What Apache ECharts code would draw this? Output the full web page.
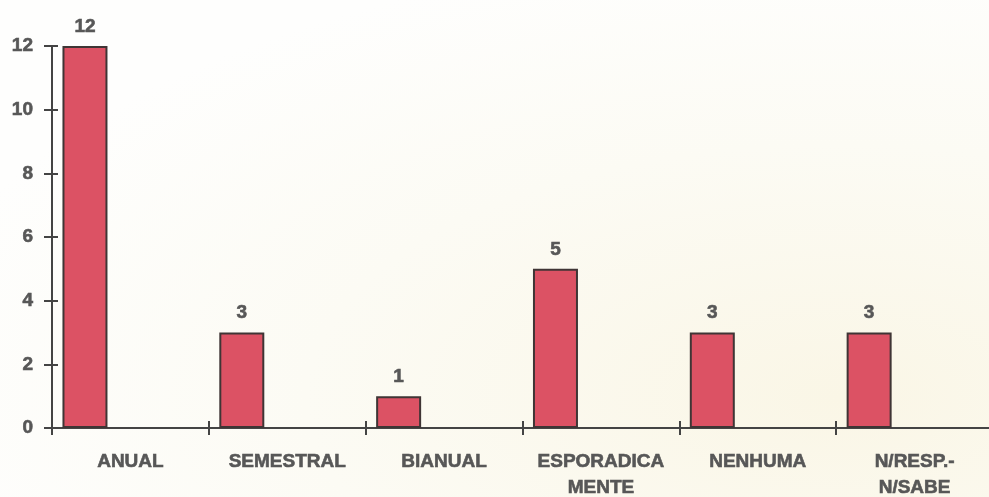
<!DOCTYPE html>
<html>
<head>
<meta charset="utf-8">
<script src="https://cdn.jsdelivr.net/npm/echarts@6/dist/echarts.min.js"></script>
<style>
  html, body { margin: 0; padding: 0; }
  #chart {
    width: 989px; height: 497px;
    background: radial-gradient(ellipse at 85% 80%, #faf6e6 0%, #fcfbf4 45%, #fefefd 80%);
  }
</style>
</head>
<body>
<div id="chart"></div>
<script>
// Frequency answers per category
const categories = ['ANUAL', 'SEMESTRAL', 'BIANUAL', 'ESPORADICA\nMENTE', 'NENHUMA', 'N/RESP.-\nN/SABE'];
const counts = [12, 3, 1, 5, 3, 3];
const yTicks = { min: 0, max: 12, step: 2 };

const textColor = '#575757';
const axisColor = '#444444';
const fontFamily = '"Liberation Sans", Arial, sans-serif';
const textStyle = {
  color: textColor, fontFamily, fontWeight: 'bold', fontSize: 19,
  textBorderColor: textColor, textBorderWidth: 0.6
};

const chart = echarts.init(document.getElementById('chart'), null, { renderer: 'canvas' });

const yCommon = {
  type: 'value',
  min: yTicks.min,
  max: yTicks.max,
  interval: yTicks.step,
  position: 'left',
  splitLine: { show: false },
  axisLine: { show: true, lineStyle: { color: axisColor, width: 2 } }
};

chart.setOption({
  animation: false,
  grid: { left: 52, right: -4, top: 46, bottom: 69, containLabel: false, outerBoundsMode: 'none' },
  xAxis: [{
    type: 'category',
    data: categories,
    boundaryGap: true,
    axisLine: { lineStyle: { color: axisColor, width: 2 } },
    axisTick: { show: true, length: 7, lineStyle: { color: axisColor, width: 2 } },
    axisLabel: Object.assign({ lineHeight: 26, margin: 21, interval: 0 }, textStyle)
  }, {
    type: 'category',
    data: categories,
    position: 'bottom',
    axisLine: { show: false },
    axisTick: { show: true, inside: true, length: 7, lineStyle: { color: axisColor, width: 2 } },
    axisLabel: { show: false }
  }],
  yAxis: [Object.assign({}, yCommon, {
    axisTick: { show: true, length: 8, lineStyle: { color: axisColor, width: 2 } },
    axisLabel: Object.assign({ margin: 19 }, textStyle)
  }), Object.assign({}, yCommon, {
    axisTick: { show: true, inside: true, length: 6, lineStyle: { color: axisColor, width: 2 } },
    axisLabel: { show: false }
  })],
  series: [{
    type: 'bar',
    data: counts,
    barWidth: 45,
    barGap: '102%',
    itemStyle: { color: '#dc5264', borderColor: '#3f3535', borderWidth: 2 },
    label: Object.assign({ show: true, position: 'top', distance: 10 }, textStyle)
  }, {
    type: 'bar',
    data: counts.map(() => '-'),
    barWidth: 45
  }]
});
</script>
</body>
</html>
